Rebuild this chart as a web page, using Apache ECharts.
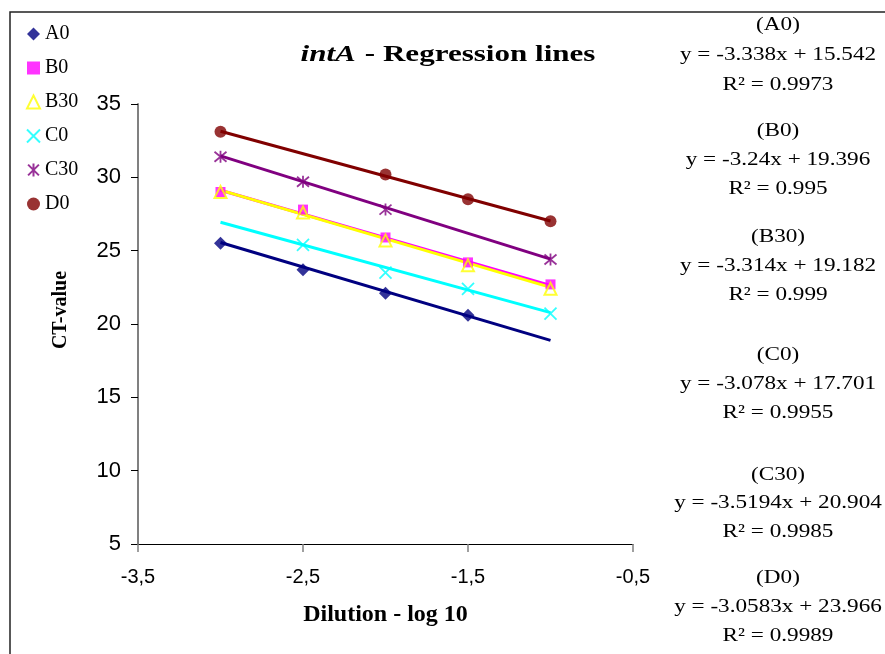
<!DOCTYPE html>
<html>
<head>
<meta charset="utf-8">
<title>intA - Regression lines</title>
<script src="https://cdn.jsdelivr.net/npm/echarts@6/dist/echarts.min.js"></script>
<style>
  html, body { margin: 0; padding: 0; background: #fff; }
  #chart { width: 885px; height: 654px; }
</style>
</head>
<body>
<div id="chart"></div>
<script>
// Dilution steps (log10)
var dilutions = [-3, -2.5, -2, -1.5, -1];

// Sample names
var samples = ['A0', 'B0', 'B30', 'C0', 'C30', 'D0'];

// Measured CT values per sample (null = no measurement at that dilution)
var ctA0  = [25.5, 23.7, 22.1, 20.6, null];
var ctB0  = [29.0, 27.8, 25.9, 24.2, 22.7];
var ctB30 = [29.0, 27.6, 25.7, 24.0, 22.4];
var ctC0  = [null, 25.4, 23.5, 22.4, 20.7];
var ctC30 = [31.4, 29.7, 27.8, null, 24.4];
var ctD0  = [33.1, null, 30.2, 28.5, 27.0];

// Linear fits: y = slope * x + intercept
var slopes     = [-3.338, -3.24, -3.314, -3.078, -3.5194, -3.0583];
var intercepts = [15.542, 19.396, 19.182, 17.701, 20.904, 23.966];
var rSquared   = [0.9973, 0.995, 0.999, 0.9955, 0.9985, 0.9989];

// Range over which the fitted lines are drawn
var fitRange = [-3, -1];

// Axis ticks
var xTicks = { min: -3.5, max: -0.5, step: 1 };
var yTicks = { min: 5, max: 35, step: 5 };

var ctValues = [ctA0, ctB0, ctB30, ctC0, ctC30, ctD0];

var colors = ['#000080', '#FF00FF', '#FFFF00', '#00FFFF', '#800080', '#800000'];
var SYM_X = 'path://M0,0L10,10M10,0L0,10';
var SYM_STAR = 'path://M0,0L10,10M10,0L0,10M5,-1L5,11';
var markers = [
  { symbol: 'diamond', size: 13, style: { color: colors[0] } },
  { symbol: 'rect', size: 10, style: { color: colors[1] } },
  { symbol: 'triangle', size: 12, style: { color: 'rgba(0,0,0,0)', borderColor: colors[2], borderWidth: 2 } },
  { symbol: SYM_X, size: 12, style: { color: colors[3], borderColor: colors[3], borderWidth: 1.8 } },
  { symbol: SYM_STAR, size: 12, style: { color: colors[4], borderColor: colors[4], borderWidth: 1.8 } },
  { symbol: 'circle', size: 12, style: { color: colors[5] } }
];

var serif = '"Liberation Serif", "Times New Roman", serif';
var sans = '"Liberation Sans", Arial, sans-serif';

var series = [];
// fitted lines first, so the markers sit on top
samples.forEach(function (name, i) {
  series.push({
    name: name + ' fit',
    type: 'line',
    data: fitRange.map(function (x) { return [x, slopes[i] * x + intercepts[i]]; }),
    showSymbol: false,
    symbol: 'none',
    lineStyle: { color: colors[i], width: 3 },
    silent: true,
    z: 2
  });
});
samples.forEach(function (name, i) {
  var pts = [];
  dilutions.forEach(function (x, k) {
    if (ctValues[i][k] !== null) pts.push([x, ctValues[i][k]]);
  });
  series.push({
    name: name,
    type: 'scatter',
    data: pts,
    symbol: markers[i].symbol,
    symbolSize: markers[i].size,
    itemStyle: markers[i].style,
    z: 3
  });
});

// Equation / R² blocks on the right side (centre y of each line)
var eqBlocks = [
  [25, 55, 85], [131, 160, 189], [237, 266, 295],
  [355, 384, 413], [475, 503, 532], [578, 607, 636]
];
var graphics = [
  {
    type: 'polyline',
    shape: { points: [[10, 654], [10, 12], [885, 12]] },
    style: { stroke: '#222', lineWidth: 1.5, fill: null },
    silent: true
  },
  {
    type: 'text',
    x: 448, y: 55, scaleX: 1.35,
    style: {
      text: '{i|intA}  {b|- Regression lines}',
      align: 'center', verticalAlign: 'middle',
      rich: {
        i: { fontFamily: serif, fontStyle: 'italic', fontWeight: 'bold', fontSize: 23, fill: '#000' },
        b: { fontFamily: serif, fontWeight: 'bold', fontSize: 23, fill: '#000' }
      }
    }
  }
];
samples.forEach(function (name, i) {
  var lines = [
    '(' + name + ')',
    'y = ' + slopes[i] + 'x + ' + intercepts[i],
    'R\u00B2 = ' + rSquared[i]
  ];
  lines.forEach(function (t, k) {
    graphics.push({
      type: 'text',
      x: 778, y: eqBlocks[i][k], scaleX: 1.22,
      style: {
        text: t, fontFamily: serif, fontSize: 19, fill: '#000',
        align: 'center', verticalAlign: 'middle'
      },
      silent: true
    });
  });
});

function commaDecimal(v) { return String(v).replace('.', ','); }

var option = {
  animation: false,
  backgroundColor: '#fff',
  grid: { left: 138, right: 252, top: 104, bottom: 110, containLabel: false },
  legend: {
    data: samples,
    orient: 'vertical',
    left: 21, top: 19,
    itemWidth: 13, itemHeight: 13, itemGap: 14,
    textStyle: { fontFamily: serif, fontSize: 20, lineHeight: 20, color: '#000' }
  },
  xAxis: {
    type: 'value',
    min: xTicks.min, max: xTicks.max, interval: xTicks.step,
    name: 'Dilution - log 10',
    nameLocation: 'middle', nameGap: 59,
    nameTextStyle: { fontFamily: serif, fontWeight: 'bold', fontSize: 24, color: '#000' },
    axisLine: { onZero: false, lineStyle: { color: '#000', width: 1 } },
    axisTick: { show: true, inside: false, length: 8, lineStyle: { color: '#808080', width: 1.5 } },
    axisLabel: { margin: 23, fontFamily: sans, fontSize: 20, color: '#000', formatter: commaDecimal },
    splitLine: { show: false }
  },
  yAxis: {
    type: 'value',
    min: yTicks.min, max: yTicks.max, interval: yTicks.step,
    name: 'CT-value',
    nameLocation: 'middle', nameGap: 67, nameRotate: 90,
    nameTextStyle: { fontFamily: serif, fontWeight: 'bold', fontSize: 20, color: '#000', padding: [0, 0, 0, 28] },
    axisLine: { onZero: false, lineStyle: { color: '#808080', width: 2 } },
    axisTick: { show: true, inside: false, length: 7, lineStyle: { color: '#000', width: 1 } },
    axisLabel: { margin: 17, fontFamily: sans, fontSize: 22, color: '#000' },
    splitLine: { show: false }
  },
  series: series,
  graphic: graphics
};

var chart = echarts.init(document.getElementById('chart'), null, { renderer: 'canvas' });
chart.setOption(option);
</script>
</body>
</html>
